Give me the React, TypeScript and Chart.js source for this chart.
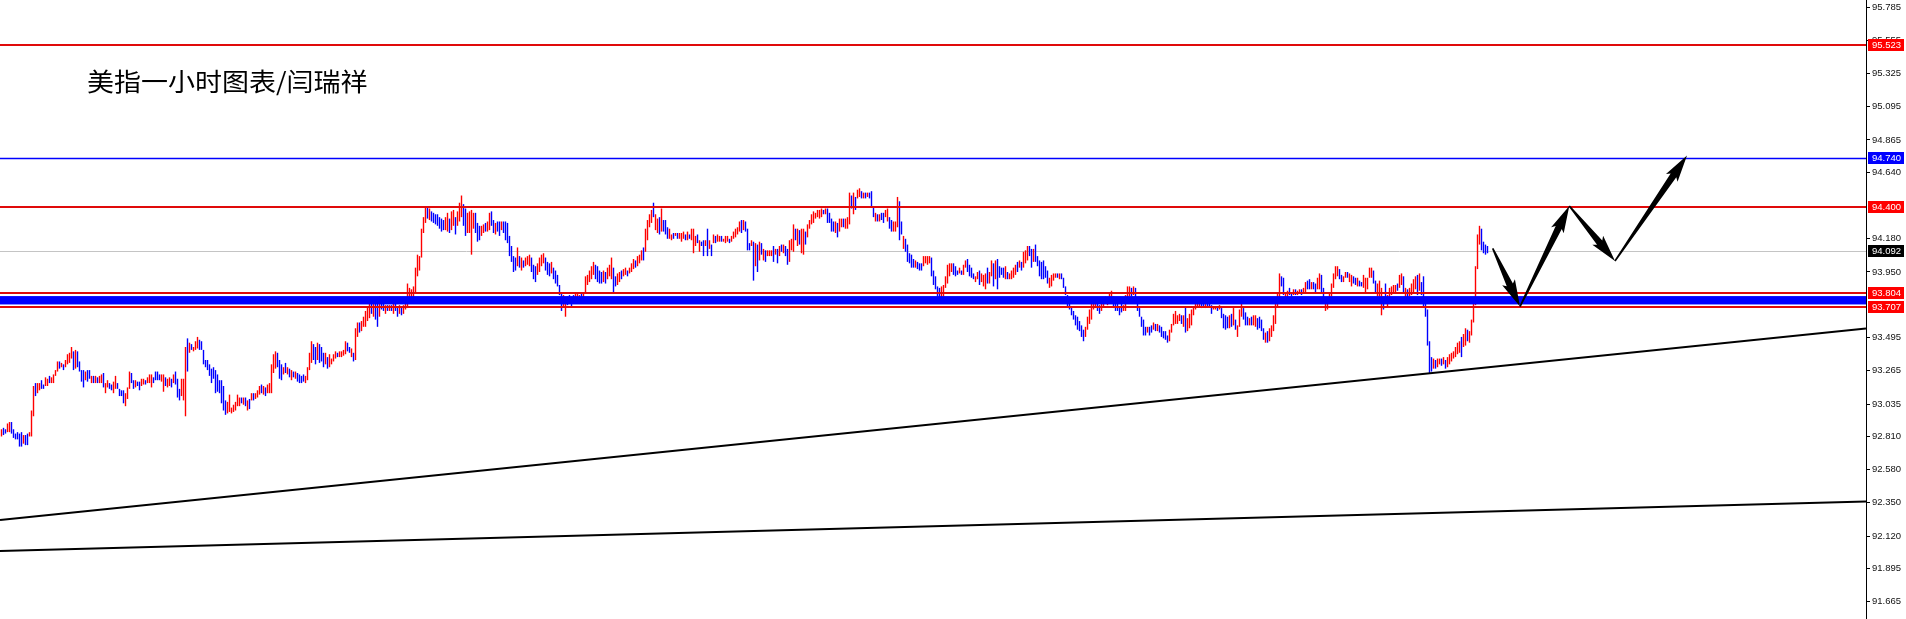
import React, { useEffect, useRef } from "react";
import { Chart, registerables } from "chart.js";

Chart.register(...registerables);

// ---------- data (hourly USD index bars) ----------
const chartTitle = "美指一小时图表/闫瑞祥";

const lows = [
  92.81,92.82,92.83,92.84,92.84,92.83,92.80,92.79,92.79,92.74,
  92.74,92.76,92.75,92.75,92.81,92.81,92.95,93.09,93.11,93.13,
  93.14,93.14,93.16,93.16,93.18,93.18,93.18,93.23,93.26,93.28,
  93.29,93.27,93.29,93.31,93.32,93.35,93.27,93.28,93.29,93.26,
  93.19,93.15,93.20,93.19,93.21,93.18,93.18,93.18,93.18,93.18,
  93.18,93.15,93.11,93.15,93.14,93.13,93.11,93.14,93.14,93.09,
  93.09,93.04,93.02,93.07,93.14,93.18,93.14,93.15,93.16,93.13,
  93.16,93.17,93.17,93.18,93.18,93.15,93.18,93.20,93.20,93.20,
  93.19,93.12,93.16,93.15,93.16,93.15,93.18,93.17,93.08,93.06,
  93.09,93.06,92.95,93.26,93.39,93.41,93.40,93.41,93.42,93.41,
  93.41,93.31,93.29,93.27,93.23,93.18,93.21,93.11,93.12,93.11,
  93.04,92.99,92.96,92.97,92.98,92.97,92.98,92.99,93.02,93.02,
  93.04,93.03,93.02,92.99,93.00,93.06,93.06,93.07,93.08,93.10,
  93.11,93.10,93.09,93.11,93.11,93.11,93.25,93.28,93.29,93.21,
  93.20,93.24,93.25,93.24,93.22,93.20,93.22,93.21,93.19,93.18,
  93.18,93.19,93.18,93.20,93.27,93.32,93.34,93.31,93.34,93.32,
  93.33,93.29,93.31,93.28,93.29,93.31,93.33,93.35,93.36,93.36,
  93.36,93.37,93.38,93.40,93.39,93.36,93.33,93.34,93.50,93.53,
  93.54,93.57,93.57,93.61,93.63,93.66,93.64,93.62,93.57,93.64,
  93.69,93.68,93.66,93.68,93.68,93.68,93.66,93.68,93.64,93.66,
  93.65,93.66,93.69,93.70,93.75,93.75,93.77,93.81,93.92,93.96,
  94.05,94.22,94.29,94.32,94.31,94.30,94.29,94.28,94.27,94.25,
  94.23,94.24,94.24,94.23,94.22,94.24,94.27,94.21,94.27,94.30,
  94.33,94.27,94.20,94.22,94.22,94.07,94.25,94.22,94.16,94.17,
  94.20,94.22,94.23,94.23,94.24,94.27,94.22,94.21,94.23,94.20,
  94.24,94.22,94.17,94.15,94.06,94.02,93.95,93.96,93.99,93.98,
  93.96,93.98,93.99,94.00,93.99,93.95,93.90,93.88,93.93,93.95,
  93.99,94.01,93.96,93.93,93.92,93.94,93.90,93.87,93.85,93.79,
  93.68,93.71,93.64,93.72,93.75,93.71,93.73,93.73,93.76,93.75,
  93.75,93.76,93.81,93.86,93.88,93.90,93.93,93.90,93.88,93.87,
  93.87,93.88,93.87,93.90,93.92,93.90,93.81,93.85,93.86,93.88,
  93.90,93.92,93.93,93.92,93.94,93.95,93.97,93.98,93.99,94.01,
  94.03,94.03,94.09,94.17,94.26,94.29,94.33,94.24,94.22,94.21,
  94.23,94.23,94.21,94.18,94.18,94.17,94.18,94.20,94.18,94.18,
  94.16,94.18,94.17,94.17,94.18,94.17,94.08,94.13,94.15,94.09,
  94.13,94.06,94.13,94.06,94.11,94.06,94.15,94.15,94.16,94.16,
  94.16,94.16,94.15,94.16,94.15,94.16,94.18,94.19,94.21,94.23,
  94.22,94.24,94.23,94.10,94.10,94.13,93.89,93.99,93.95,94.03,
  94.07,94.03,94.02,94.06,94.06,94.06,94.02,94.07,94.01,94.06,
  94.09,94.08,94.06,94.00,94.02,94.10,94.09,94.17,94.13,94.14,
  94.08,94.07,94.14,94.19,94.25,94.28,94.29,94.32,94.33,94.32,
  94.33,94.35,94.35,94.29,94.29,94.23,94.23,94.22,94.19,94.23,
  94.26,94.26,94.25,94.25,94.28,94.39,94.35,94.38,94.46,94.47,
  94.46,94.46,94.46,94.47,94.46,94.40,94.33,94.30,94.30,94.30,
  94.31,94.29,94.33,94.30,94.25,94.23,94.23,94.23,94.26,94.17,
  94.21,94.11,94.09,94.02,94.01,93.98,93.98,93.98,93.97,93.96,
  93.96,93.99,94.01,94.00,94.01,93.92,93.86,93.83,93.78,93.77,
  93.76,93.78,93.84,93.87,93.92,93.95,93.93,93.92,93.93,93.94,
  93.93,93.93,93.98,93.95,93.92,93.91,93.90,93.88,93.90,93.86,
  93.88,93.85,93.83,93.87,93.87,93.92,93.85,93.90,93.83,93.91,
  93.93,93.91,93.90,93.90,93.90,93.90,93.91,93.93,93.95,93.98,
  93.96,93.98,94.01,94.03,94.06,93.98,94.02,94.02,93.99,93.92,
  93.90,93.90,93.91,93.87,93.84,93.85,93.89,93.91,93.91,93.90,
  93.90,93.84,93.79,93.71,93.69,93.65,93.62,93.58,93.55,93.54,
  93.50,93.47,93.50,93.55,93.59,93.62,93.69,93.70,93.68,93.66,
  93.68,93.71,93.73,93.72,93.73,93.73,93.70,93.68,93.68,93.65,
  93.67,93.68,93.68,93.76,93.78,93.78,93.79,93.75,93.68,93.64,
  93.57,93.51,93.51,93.53,93.51,93.53,93.55,93.54,93.54,93.53,
  93.50,93.49,93.48,93.46,93.47,93.53,93.58,93.59,93.59,93.61,
  93.59,93.57,93.53,93.54,93.56,93.58,93.65,93.69,93.71,93.71,
  93.70,93.71,93.70,93.71,93.71,93.66,93.69,93.69,93.68,93.69,
  93.63,93.56,93.55,93.56,93.56,93.57,93.58,93.55,93.50,93.57,
  93.64,93.62,93.58,93.58,93.58,93.58,93.58,93.57,93.55,93.56,
  93.54,93.48,93.46,93.46,93.47,93.50,93.54,93.59,93.71,93.77,
  93.85,93.79,93.77,93.77,93.79,93.78,93.79,93.79,93.79,93.80,
  93.79,93.80,93.81,93.83,93.83,93.83,93.83,93.81,93.83,93.83,
  93.80,93.77,93.68,93.69,93.73,93.78,93.84,93.90,93.92,93.90,
  93.88,93.88,93.91,93.91,93.88,93.85,93.87,93.86,93.85,93.85,
  93.85,93.84,93.81,93.83,93.91,93.91,93.87,93.81,93.78,93.78,
  93.65,93.69,93.77,93.71,93.76,93.79,93.81,93.81,93.82,93.84,
  93.86,93.81,93.77,93.76,93.78,93.79,93.81,93.83,93.79,93.82,
  93.79,93.71,93.64,93.44,93.25,93.26,93.28,93.28,93.29,93.31,
  93.30,93.31,93.28,93.29,93.31,93.33,93.35,93.36,93.38,93.39,
  93.36,93.43,93.44,93.47,93.46,93.51,93.60,93.72,93.97,94.14,
  94.10,94.08,94.07,94.08,
];

const highs = [
  92.86,92.87,92.86,92.90,92.91,92.91,92.86,92.83,92.84,92.83,
  92.84,92.82,92.82,92.83,92.84,92.99,93.16,93.18,93.18,93.18,
  93.20,93.17,93.22,93.21,93.23,93.22,93.24,93.27,93.33,93.33,
  93.32,93.31,93.34,93.38,93.39,93.43,93.40,93.41,93.40,93.33,
  93.27,93.27,93.26,93.27,93.27,93.23,93.23,93.23,93.22,93.23,
  93.24,93.25,93.18,93.20,93.18,93.17,93.19,93.23,93.18,93.14,
  93.13,93.13,93.11,93.15,93.26,93.25,93.20,93.20,93.19,93.19,
  93.21,93.21,93.20,93.22,93.24,93.24,93.22,93.26,93.26,93.24,
  93.24,93.24,93.22,93.21,93.22,93.21,93.24,93.26,93.21,93.14,
  93.21,93.21,93.43,93.49,93.46,93.45,93.43,93.47,93.50,93.48,
  93.47,93.41,93.34,93.34,93.31,93.28,93.29,93.27,93.24,93.20,
  93.20,93.16,93.06,93.05,93.10,93.01,93.03,93.05,93.10,93.08,
  93.08,93.08,93.08,93.06,93.07,93.11,93.11,93.11,93.13,93.16,
  93.17,93.16,93.15,93.17,93.18,93.31,93.38,93.40,93.39,93.34,
  93.31,93.29,93.32,93.29,93.28,93.27,93.26,93.26,93.25,93.24,
  93.23,93.24,93.23,93.29,93.39,93.47,93.45,93.43,93.46,93.45,
  93.43,93.39,93.39,93.36,93.38,93.35,93.38,93.40,93.39,93.40,
  93.40,93.41,93.47,93.46,93.43,93.42,93.39,93.56,93.60,93.60,
  93.61,93.64,93.68,93.71,93.77,93.77,93.76,93.75,93.73,93.78,
  93.77,93.73,93.72,93.72,93.72,93.72,93.73,93.73,93.71,93.72,
  93.71,93.72,93.73,93.87,93.84,93.83,93.85,93.98,94.07,94.06,
  94.25,94.33,94.40,94.40,94.39,94.37,94.36,94.35,94.35,94.33,
  94.32,94.31,94.33,94.36,94.32,94.37,94.38,94.33,94.37,94.43,
  94.48,94.42,94.39,94.36,94.37,94.38,94.36,94.36,94.29,94.27,
  94.27,94.28,94.29,94.30,94.36,94.37,94.31,94.29,94.30,94.30,
  94.30,94.30,94.30,94.29,94.20,94.13,94.06,94.05,94.12,94.06,
  94.05,94.03,94.05,94.06,94.07,94.05,94.00,93.99,94.01,94.05,
  94.07,94.08,94.05,94.02,94.01,94.02,93.98,93.96,93.93,93.86,
  93.80,93.79,93.76,93.78,93.79,93.78,93.79,93.80,93.80,93.79,
  93.80,93.81,93.92,93.93,93.96,93.99,94.02,94.00,93.99,93.96,
  93.95,93.96,93.95,93.98,94.00,94.05,93.98,93.92,93.94,93.95,
  93.96,93.97,93.98,93.96,93.98,94.01,94.04,94.03,94.06,94.07,
  94.10,94.12,94.25,94.31,94.35,94.38,94.43,94.35,94.32,94.33,
  94.39,94.31,94.31,94.26,94.25,94.21,94.22,94.22,94.22,94.22,
  94.22,94.23,94.21,94.23,94.21,94.25,94.25,94.20,94.21,94.17,
  94.16,94.17,94.17,94.25,94.17,94.14,94.21,94.20,94.21,94.20,
  94.20,94.18,94.20,94.20,94.18,94.20,94.23,94.25,94.26,94.30,
  94.31,94.31,94.30,94.25,94.15,94.17,94.16,94.15,94.14,94.16,
  94.15,94.11,94.10,94.10,94.10,94.10,94.13,94.11,94.11,94.13,
  94.14,94.14,94.13,94.11,94.17,94.18,94.28,94.25,94.25,94.24,
  94.25,94.25,94.23,94.28,94.31,94.35,94.37,94.36,94.38,94.38,
  94.39,94.38,94.39,94.39,94.36,94.32,94.30,94.30,94.29,94.32,
  94.32,94.32,94.32,94.33,94.50,94.48,94.50,94.47,94.52,94.53,
  94.51,94.50,94.50,94.50,94.50,94.51,94.40,94.36,94.35,94.35,
  94.36,94.36,94.38,94.39,94.33,94.31,94.30,94.30,94.47,94.44,
  94.30,94.20,94.18,94.14,94.08,94.07,94.04,94.03,94.02,94.01,
  94.01,94.06,94.06,94.06,94.06,94.05,93.96,93.92,93.85,93.84,
  93.85,93.86,93.92,94.00,94.01,94.01,94.01,93.99,93.96,93.98,
  93.96,94.00,94.03,94.04,94.00,93.98,93.94,93.92,93.95,93.96,
  93.94,93.93,93.94,93.98,93.95,94.03,94.01,94.03,94.04,93.99,
  93.98,93.98,93.99,93.95,93.94,93.96,93.98,94.00,94.02,94.03,
  94.02,94.09,94.10,94.13,94.13,94.11,94.11,94.14,94.06,94.03,
  94.02,94.03,93.99,93.96,93.91,93.93,93.94,93.94,93.94,93.94,
  93.94,93.91,93.85,93.79,93.74,93.71,93.68,93.65,93.64,93.61,
  93.58,93.55,93.57,93.64,93.69,93.74,93.76,93.75,93.73,93.72,
  93.73,93.76,93.78,93.77,93.80,93.82,93.78,93.76,93.73,93.71,
  93.73,93.72,93.79,93.85,93.85,93.84,93.85,93.84,93.77,93.70,
  93.64,93.62,93.57,93.57,93.57,93.58,93.60,93.59,93.59,93.58,
  93.57,93.54,93.54,93.51,93.55,93.59,93.66,93.68,93.65,93.66,
  93.65,93.65,93.71,93.63,93.66,93.69,93.71,93.76,93.77,93.76,
  93.73,93.73,93.73,93.76,93.76,93.72,93.71,93.71,93.71,93.72,
  93.70,93.66,93.65,93.64,93.65,93.66,93.70,93.62,93.58,93.69,
  93.73,93.70,93.67,93.64,93.63,93.64,93.65,93.65,93.63,93.64,
  93.62,93.56,93.53,93.54,93.56,93.58,93.65,93.76,93.80,93.94,
  93.92,93.91,93.81,93.82,93.84,93.81,93.83,93.83,93.82,93.83,
  93.83,93.84,93.88,93.89,93.90,93.88,93.88,93.87,93.91,93.94,
  93.93,93.84,93.77,93.75,93.80,93.87,93.94,93.99,93.99,93.97,
  93.93,93.92,93.95,93.95,93.94,93.93,93.92,93.91,93.91,93.89,
  93.88,93.93,93.91,93.91,93.98,93.98,93.96,93.89,93.87,93.89,
  93.84,93.78,93.87,93.79,93.84,93.85,93.86,93.86,93.87,93.93,
  93.94,93.92,93.84,93.83,93.84,93.87,93.90,93.92,93.93,93.94,
  93.88,93.92,93.73,93.69,93.47,93.36,93.35,93.34,93.35,93.35,
  93.35,93.36,93.34,93.36,93.38,93.39,93.40,93.43,93.46,93.47,
  93.50,93.52,93.56,93.55,93.54,93.62,93.73,93.99,94.21,94.27,
  94.25,94.16,94.14,94.13,
];

// 1 = rising bar, 0 = falling bar
const ups = [
  1,0,0,1,1,0,0,0,0,0, 0,1,0,0,1,1,1,0,1,1, 0,0,1,1,0,1,1,1,1,0, 1,0,1,1,1,1,0,1,0,0,
  0,0,1,0,0,1,0,1,0,1, 1,0,1,1,0,0,1,1,0,0, 0,0,1,1,1,0,0,1,0,0, 1,1,0,1,1,1,0,0,0,0,
  1,1,0,1,1,0,1,0,0,0, 1,1,1,0,1,0,1,1,1,0, 0,0,0,0,0,0,0,0,0,0, 0,0,0,1,1,1,1,1,1,1,
  0,1,0,1,0,1,0,1,1,1, 0,1,0,1,1,1,1,1,0,0, 0,1,0,1,0,1,0,1,0,0, 0,0,1,1,1,1,0,0,1,0,
  0,0,1,0,1,1,1,1,0,1, 1,1,1,0,0,1,0,1,1,0, 1,1,1,1,1,0,1,0,0,1, 0,0,1,0,1,0,1,0,0,1,
  0,1,1,1,1,1,1,1,1,1, 1,1,1,0,1,0,0,0,0,0, 0,0,1,1,0,1,1,0,1,1, 1,0,0,1,1,1,1,0,0,0,
  1,1,0,1,1,0,0,1,0,0, 1,0,0,0,0,0,0,0,1,0, 1,0,1,1,1,0,0,0,1,1, 1,1,0,0,0,1,0,0,0,0,
  0,1,1,0,0,0,0,1,1,1, 0,1,1,1,1,1,1,0,0,0, 0,1,0,1,1,1,0,0,1,1, 0,1,1,0,1,1,1,0,1,1,
  1,0,1,1,1,1,0,1,1,0, 1,0,0,0,1,1,0,1,0,1, 1,1,0,1,0,1,1,1,0,1, 0,0,1,0,1,0,1,0,1,1,
  0,1,1,1,0,1,1,1,1,1, 0,1,0,0,0,1,0,1,0,1, 0,1,0,1,1,1,0,1,0,1, 0,1,0,0,1,1,1,0,1,0,
  1,1,0,1,1,1,1,1,1,1, 1,0,1,0,0,0,0,1,0,1, 1,0,1,1,1,0,1,0,1,1, 0,1,0,1,0,0,0,1,0,1,
  0,0,1,1,0,0,1,1,1,0, 0,1,0,0,0,0,0,1,0,0, 0,1,1,1,1,0,0,0,0,0, 1,1,1,1,1,1,0,0,0,1,
  0,1,1,0,0,0,0,1,1,0, 1,1,1,0,1,1,0,1,0,0, 0,0,1,0,1,1,1,1,0,1, 0,1,1,1,0,0,1,0,0,0,
  0,0,0,0,1,1,1,1,0,1, 0,0,0,0,0,0,0,0,0,0, 0,0,1,1,1,1,1,1,0,0, 1,1,1,1,1,1,0,0,0,0,
  0,1,1,1,1,0,1,0,0,0, 0,0,0,1,0,0,1,0,1,0, 0,0,0,0,1,1,1,1,1,1, 0,1,0,1,1,1,1,1,1,1,
  0,0,1,0,0,0,1,1,0,1, 0,0,0,0,1,0,1,0,1,1, 1,0,0,0,1,0,1,1,0,0, 0,0,1,0,1,1,1,1,1,1,
  0,0,1,1,0,0,1,0,1,1, 0,1,1,0,0,1,0,0,1,1, 0,0,1,1,1,1,1,1,1,0, 0,1,1,0,1,1,0,0,1,0,
  0,1,1,1,1,1,0,0,1,1, 1,0,0,1,1,1,1,1,0,1, 1,0,1,0,1,1,1,1,0,1, 0,0,0,0,0,0,1,0,1,1,
  0,1,0,1,1,1,1,1,1,1, 0,1,1,0,1,1,1,1,1,1, 0,0,0,0,
];

const yMin = 91.545;
const yMax = 95.835;
const xSlots = 933; // bar slots across the plot, the right part left empty
const yTicks = [95.785, 95.555, 95.325, 95.095, 94.865, 94.64, 94.18, 93.95, 93.495, 93.265, 93.035, 92.81, 92.58, 92.35, 92.12, 91.895, 91.665];

const redLevels = [95.523, 94.4, 93.804, 93.707];
const blueLevels = [94.74];
const bidPrice = 94.092;
const bandRange = [93.725, 93.783];
// trend lines: price at left edge, price at right edge of the plot
const trendUpper = [92.231, 93.559];
const trendLower = [92.017, 92.36];
// forecast zigzag: [bar slot, price]
const forecastPath = [
  [745.6, 94.114],
  [759.25, 93.71],
  [783.9, 94.407],
  [806.75, 94.026],
  [842.75, 94.757],
];

// ---------- styles ----------
const BAR_RED = "#ff0000";
const BAR_BLUE = "#0000ff";
const LINE_RED = "#e00a0a";
const LINE_BLUE = "#0000ff";
const AXIS_FONT = "Liberation Sans";

function drawArrow(ctx: CanvasRenderingContext2D, ax: number, ay: number, bx: number, by: number) {
  const dx = bx - ax, dy = by - ay;
  const len = Math.hypot(dx, dy);
  const ux = dx / len, uy = dy / len;
  const nx = -uy, ny = ux;
  const head = Math.min(24, len * 0.4);
  const hw = 7, sw = 3.4, tw = 0.8;
  const px = bx - ux * head, py = by - uy * head;
  ctx.beginPath();
  ctx.moveTo(ax + nx * tw, ay + ny * tw);
  ctx.lineTo(px + nx * sw, py + ny * sw);
  ctx.lineTo(px + nx * hw - ux * 3, py + ny * hw - uy * 3);
  ctx.lineTo(bx, by);
  ctx.lineTo(px - nx * hw - ux * 3, py - ny * hw - uy * 3);
  ctx.lineTo(px - nx * sw, py - ny * sw);
  ctx.lineTo(ax - nx * tw, ay - ny * tw);
  ctx.closePath();
  ctx.fill();
}

const overlayPlugin = {
  id: "mtOverlay",
  beforeDatasetsDraw(chart: any) {
    const { ctx, chartArea: a, scales } = chart;
    const y = scales.y;
    ctx.save();
    ctx.strokeStyle = "#c4c4c4";
    ctx.lineWidth = 1;
    const yb = Math.round(y.getPixelForValue(bidPrice)) + 0.5;
    ctx.beginPath();
    ctx.moveTo(a.left, yb);
    ctx.lineTo(a.right, yb);
    ctx.stroke();
    ctx.restore();
  },
  afterDatasetsDraw(chart: any) {
    const { ctx, chartArea: a, scales } = chart;
    const x = scales.x, y = scales.y;
    ctx.save();
    ctx.beginPath();
    ctx.rect(a.left, a.top, a.right - a.left, a.bottom - a.top);
    ctx.clip();

    // blue band
    const bTop = y.getPixelForValue(bandRange[1]);
    const bBot = y.getPixelForValue(bandRange[0]);
    ctx.fillStyle = LINE_BLUE;
    ctx.fillRect(a.left, bTop, a.right - a.left, bBot - bTop);

    // red levels
    ctx.strokeStyle = LINE_RED;
    ctx.lineWidth = 2;
    for (const v of redLevels) {
      const py = Math.round(y.getPixelForValue(v));
      ctx.beginPath();
      ctx.moveTo(a.left, py);
      ctx.lineTo(a.right, py);
      ctx.stroke();
    }
    // blue level
    ctx.strokeStyle = LINE_BLUE;
    ctx.lineWidth = 1.4;
    for (const v of blueLevels) {
      const py = Math.round(y.getPixelForValue(v)) + 0.5;
      ctx.beginPath();
      ctx.moveTo(a.left, py);
      ctx.lineTo(a.right, py);
      ctx.stroke();
    }

    // trend lines
    ctx.strokeStyle = "#000";
    ctx.lineWidth = 2;
    for (const t of [trendUpper, trendLower]) {
      ctx.beginPath();
      ctx.moveTo(x.getPixelForValue(x.min), y.getPixelForValue(t[0]));
      ctx.lineTo(x.getPixelForValue(x.max), y.getPixelForValue(t[1]));
      ctx.stroke();
    }

    // forecast arrows
    ctx.fillStyle = "#000";
    for (let i = 0; i < forecastPath.length - 1; i++) {
      const p = forecastPath[i], q = forecastPath[i + 1];
      drawArrow(
        ctx,
        x.getPixelForValue(p[0]), y.getPixelForValue(p[1]),
        x.getPixelForValue(q[0]), y.getPixelForValue(q[1])
      );
    }
    ctx.restore();
  },
  afterDraw(chart: any) {
    const { ctx, chartArea: a, scales, width } = chart;
    const y = scales.y;
    const boxes: [number, string][] = [
      ...redLevels.map((v) => [v, "#ff0000"] as [number, string]),
      ...blueLevels.map((v) => [v, "#0000ff"] as [number, string]),
      [bidPrice, "#000000"],
    ];
    ctx.save();
    ctx.font = `9.5px "${AXIS_FONT}"`;
    ctx.textBaseline = "middle";
    ctx.textAlign = "left";
    for (const [v, c] of boxes) {
      const py = Math.round(y.getPixelForValue(v));
      ctx.fillStyle = c;
      ctx.fillRect(a.right + 2, py - 6, width - a.right - 4, 12);
      ctx.fillStyle = "#ffffff";
      ctx.fillText(v.toFixed(3), a.right + 6, py + 0.5);
    }
    ctx.restore();
  },
};

export default function App() {
  const canvasRef = useRef<HTMLCanvasElement | null>(null);

  useEffect(() => {
    const prevMargin = document.body.style.margin;
    document.body.style.margin = "0";
    const canvas = canvasRef.current;
    if (!canvas) return;

    const chart = new Chart(canvas, {
      type: "bar",
      data: {
        datasets: [
          {
            data: lows.map((lo, i) => ({ x: i, y: [Math.min(lo, highs[i]), Math.max(lo, highs[i])] })) as any,
            backgroundColor: ups.map((u) => (u ? BAR_RED : BAR_BLUE)),
            barThickness: 1.4,
            borderWidth: 0,
            inflateAmount: 0,
          } as any,
        ],
      },
      options: {
        responsive: false,
        animation: false,
        devicePixelRatio: 1,
        events: [],
        layout: { padding: 0 },
        plugins: {
          legend: { display: false },
          tooltip: { enabled: false },
          title: { display: false },
        },
        scales: {
          x: {
            type: "linear",
            display: false,
            min: -0.75,
            max: xSlots - 0.75,
            offset: false,
          },
          y: {
            type: "linear",
            position: "right",
            min: yMin,
            max: yMax,
            afterBuildTicks: (s: any) => {
              s.ticks = yTicks.map((v) => ({ value: v }));
            },
            afterFit: (s: any) => {
              s.width = 40;
              s.paddingTop = 0;
              s.paddingBottom = 0;
            },
            ticks: {
              autoSkip: false,
              padding: 2,
              color: "#111",
              font: { family: AXIS_FONT, size: 9.5 },
              callback: (v: any) => Number(v).toFixed(3),
            },
            grid: {
              drawOnChartArea: false,
              drawTicks: true,
              tickLength: 4,
              color: "#000",
            },
            border: { display: true, color: "#000", width: 1 },
          } as any,
        },
      },
      plugins: [overlayPlugin],
    });

    return () => {
      chart.destroy();
      document.body.style.margin = prevMargin;
    };
  }, []);

  return (
    <div style={{ position: "relative", width: 1906, height: 619, background: "#fff" }}>
      <canvas ref={canvasRef} width={1906} height={619} style={{ display: "block", width: 1906, height: 619 }} />
      <div
        style={{
          position: "absolute",
          left: 87,
          top: 68,
          fontFamily: '"Noto Sans CJK SC", sans-serif',
          fontSize: 25,
          lineHeight: "25px",
          color: "#000",
          whiteSpace: "nowrap",
          transform: "scaleX(1.08)",
          transformOrigin: "0 0",
        }}
      >
        {chartTitle}
      </div>
    </div>
  );
}
